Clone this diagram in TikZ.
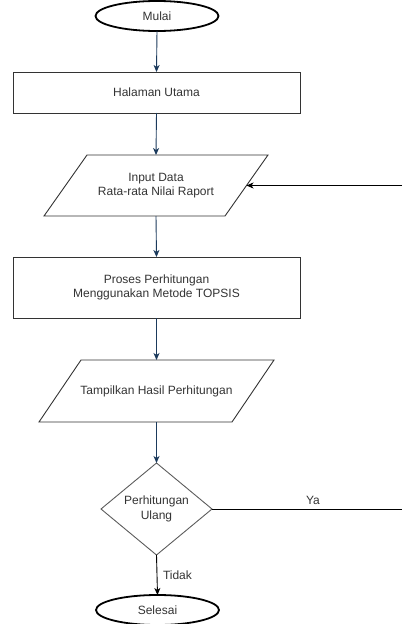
\documentclass[tikz,border=0pt]{standalone}
\usepackage{fontspec}
\setmainfont{Liberation Sans}
\usetikzlibrary{shapes.geometric,arrows.meta,calc}
\definecolor{navy}{HTML}{1B3A5C}
\definecolor{txt}{HTML}{333333}
\begin{document}
\begin{tikzpicture}[x=1pt,y=-1pt,
  every node/.style={font=\fontsize{12}{14.5}\selectfont, text=txt, align=center, inner sep=0pt, outer sep=0pt},
  term/.style={ellipse, draw=black, line width=1.8pt, minimum width=123pt, minimum height=30pt},
  proc/.style={rectangle, draw=txt, line width=0.9pt, minimum width=287pt},
  iobox/.style={rectangle, minimum width=#1},
  para/.style={draw=txt, line width=0.9pt, line join=miter},
  dec/.style={diamond, draw=txt!80, line width=0.9pt, minimum width=111pt, minimum height=92pt, aspect=1.2},
  navyarrow/.style={draw=navy, line width=0.9pt, -{Stealth[length=7pt,width=6pt,inset=2pt]}},
  blackarrow/.style={draw=black, line width=0.9pt, -{Stealth[length=7pt,width=6pt,inset=2pt]}},
  lbl/.style={font=\fontsize{12}{14}\selectfont}
]
\useasboundingbox (0,0) rectangle (402,624);
\node[term] (mulai) at (157,16) {Mulai};
\node[proc, minimum height=41pt] (halaman) at (156.5,92.5) {Halaman Utama};
\node[iobox=181pt, minimum height=61pt] (input) at (156,185.5) {Input Data\\Rata-rata Nilai Raport};
\draw[para] ($(input.north west)+(21.5,0)$) -- ($(input.north east)+(21.5,0)$) -- ($(input.south east)-(21.5,0)$) -- ($(input.south west)-(21.5,0)$) -- cycle;
\node[proc, minimum height=61pt] (proses) at (156.5,287.5) {Proses Perhitungan\\Menggunakan Metode TOPSIS};
\node[iobox=193pt, minimum height=62pt] (tampil) at (156.5,391) {Tampilkan Hasil Perhitungan};
\draw[para] ($(tampil.north west)+(21,0)$) -- ($(tampil.north east)+(21,0)$) -- ($(tampil.south east)-(21,0)$) -- ($(tampil.south west)-(21,0)$) -- cycle;
\node[dec] (ulang) at (156.5,509) {Perhitungan\\Ulang};
\node[term] (selesai) at (157.5,610) {Selesai};
\coordinate (yaend) at (402,509);
\coordinate (loopin) at (402,185.5);

\draw[navyarrow] (mulai.south) -- (halaman.north);
\draw[navyarrow] (halaman.south) -- (input.north);
\draw[navyarrow] (input.south) -- (proses.north);
\draw[navyarrow] (proses.south) -- (tampil.north);
\draw[navyarrow, line width=1.8pt] (tampil.south) -- (ulang.north);
\draw[blackarrow] (ulang.south) -- node[lbl, right=6pt, pos=0.5] {Tidak} (selesai.north);
\draw[draw=black, line width=0.9pt] (ulang.east) -- (yaend);
\node[lbl] (ya) at (313,500) {Ya};
\draw[blackarrow] (loopin) -- (input.east);
\end{tikzpicture}
\end{document}
